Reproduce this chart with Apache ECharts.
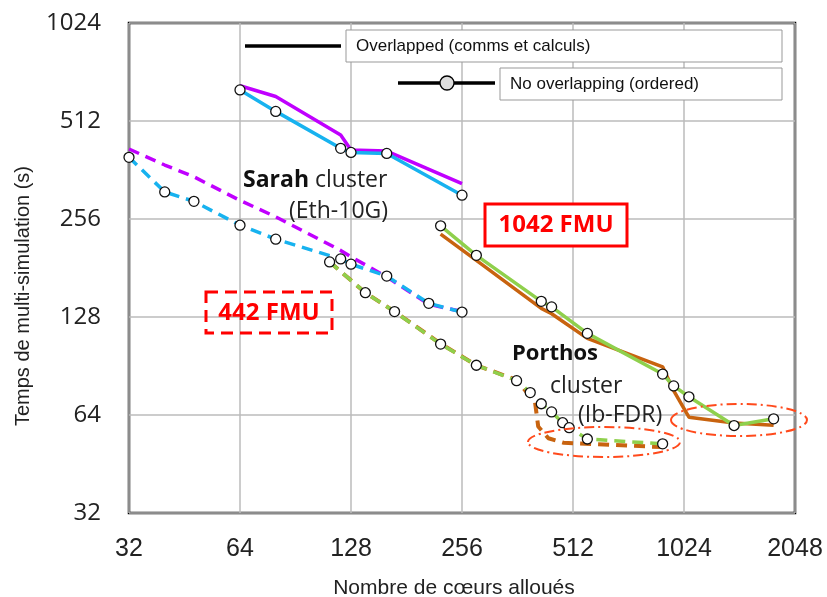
<!DOCTYPE html>
<html>
<head>
<meta charset="utf-8">
<script src="https://cdn.jsdelivr.net/npm/echarts@6/dist/echarts.min.js"></script>
<style>
  html, body { margin: 0; padding: 0; background: #fff; }
  #main { width: 827px; height: 597px; }
</style>
</head>
<body>
<div id="main"></div>
<script>
// ---- data (cores, seconds) ----
var xTicks = [32, 64, 128, 256, 512, 1024, 2048];
var yTicks = [32, 64, 128, 256, 512, 1024];

// Sarah cluster, 1042 FMU (solid)
var sarahBigX       = [64, 80, 120, 128, 160, 256];
var sarahBigOrdered = [638, 548, 422, 410, 407, 303];
var sarahBigOverlap = [657, 609, 464, 417, 414, 329];

// Sarah cluster, 442 FMU (dashed)
var sarahSmallX       = [32, 40, 48, 64, 80, 120, 128, 160, 208, 256];
var sarahSmallOrdered = [396, 310, 290, 245, 222, 193, 186, 171, 141, 132.5];
var sarahSmallOverlap = [420, 375, 345, 292, 260, 205, 196, 170, 140, 133];

// Porthos cluster, 1042 FMU (solid)
var porthosBigX       = [224, 280, 420, 448, 560, 896, 960, 1056, 1400, 1792];
var porthosBigOrdered = [244, 198, 143, 137.5, 114, 85.5, 78.6, 72.8, 59.4, 62.3];
var porthosBigOverlap = [230, 191, 136, 131, 110, 90, 76, 63, 60.5, 59.5];

// Porthos cluster, 442 FMU (dashed)
var porthosSmallX       = [112, 140, 168, 224, 280, 360, 392, 420, 448, 480, 500, 560, 896];
var porthosSmallOrdered = [189, 152, 133, 105.7, 91, 81.6, 75, 69.3, 65.4, 60.6, 58.5, 54, 52.2];
var porthosSmallOverX   = [112, 140, 168, 224, 280, 360, 404, 412, 439, 483, 896];
var porthosSmallOverlap = [189, 152, 133, 106, 91, 82, 70, 59, 54.3, 52.6, 51];

function zip(xs, ys) {
  return xs.map(function (x, i) { return [x, ys[i]]; });
}

var CYAN = '#17b2ef', MAGENTA = '#c000ff', GREEN = '#8fd04c', ORANGE = '#c8630f';

function overlapSeries(xs, ys, color, dashed, w) {
  return {
    type: 'line',
    data: zip(xs, ys),
    showSymbol: false,
    symbol: 'none',
    lineStyle: { color: color, width: w || 3.5, type: dashed ? [11, 7] : 'solid' },
    z: 2
  };
}
function orderedSeries(xs, ys, color, dashed) {
  return {
    type: 'line',
    data: zip(xs, ys),
    symbol: 'circle',
    symbolSize: 10,
    itemStyle: { color: '#fff', borderColor: '#111', borderWidth: 1.3 },
    lineStyle: { color: color, width: 3.5, type: dashed ? [11, 7] : 'solid' },
    z: 3
  };
}

var chart = echarts.init(document.getElementById('main'));
var option = {
  backgroundColor: '#fff',
  animation: false,
  grid: {
    left: 129, right: 32, top: 23, bottom: 84,
    show: true, borderColor: '#000', borderWidth: 2.5
  },
  xAxis: {
    type: 'log', logBase: 2, min: 32, max: 2048,
    axisLine: { show: false },
    axisTick: { show: false },
    splitLine: { show: true, lineStyle: { color: '#bbb', width: 1.5 } },
    axisLabel: {
      margin: 24, fontFamily: 'Liberation Sans', fontSize: 25, color: '#222',
      formatter: function (v) { return xTicks.indexOf(Math.round(v)) >= 0 ? String(Math.round(v)) : ''; }
    }
  },
  yAxis: {
    type: 'log', logBase: 2, min: 32, max: 1024,
    axisLine: { show: false },
    axisTick: { show: false },
    splitLine: { show: true, lineStyle: { color: '#bbb', width: 1.5 } },
    axisLabel: {
      margin: 28, fontFamily: 'Open Sans', fontSize: 24, color: '#222',
      formatter: function (v) { return yTicks.indexOf(Math.round(v)) >= 0 ? String(Math.round(v)) : ''; }
    }
  },
  series: [
    overlapSeries(sarahBigX, sarahBigOverlap, MAGENTA, false),
    orderedSeries(sarahBigX, sarahBigOrdered, CYAN, false),
    overlapSeries(sarahSmallX, sarahSmallOverlap, MAGENTA, true),
    orderedSeries(sarahSmallX, sarahSmallOrdered, CYAN, true),
    orderedSeries(porthosBigX, porthosBigOrdered, GREEN, false),
    overlapSeries(porthosBigX, porthosBigOverlap, ORANGE, false),
    overlapSeries(porthosSmallOverX, porthosSmallOverlap, ORANGE, true, 4),
    orderedSeries(porthosSmallX, porthosSmallOrdered, GREEN, true)
  ],
  graphic: [
    // axis titles
    { type: 'text', x: 454, y: 588, style: { text: 'Nombre de cœurs alloués', align: 'center', verticalAlign: 'middle', fontFamily: 'Liberation Sans', fontSize: 21, fill: '#222' } },
    { type: 'text', x: 23, y: 296, rotation: Math.PI / 2, style: { text: 'Temps de multi-simulation (s)', align: 'center', verticalAlign: 'middle', fontFamily: 'Liberation Sans', fontSize: 20, fill: '#222' } },

    // legend
    { type: 'line', shape: { x1: 245, y1: 46, x2: 341, y2: 46 }, style: { stroke: '#000', lineWidth: 3.5 }, z: 10 },
    { type: 'rect', shape: { x: 346, y: 30, width: 436, height: 32 }, style: { fill: '#fff', stroke: '#999', lineWidth: 1 }, z: 10 },
    { type: 'text', x: 356, y: 46, style: { text: 'Overlapped (comms et calculs)', fontFamily: 'Liberation Sans', fontSize: 17, fill: '#111', verticalAlign: 'middle' }, z: 11 },
    { type: 'line', shape: { x1: 398, y1: 83, x2: 495, y2: 83 }, style: { stroke: '#000', lineWidth: 3.5 }, z: 10 },
    { type: 'circle', shape: { cx: 447, cy: 83, r: 7 }, style: { fill: '#ddd', stroke: '#000', lineWidth: 1.3 }, z: 11 },
    { type: 'rect', shape: { x: 500, y: 68, width: 282, height: 32 }, style: { fill: '#fff', stroke: '#999', lineWidth: 1 }, z: 10 },
    { type: 'text', x: 510, y: 84, style: { text: 'No overlapping (ordered)', fontFamily: 'Liberation Sans', fontSize: 17, fill: '#111', verticalAlign: 'middle' }, z: 11 },

    // cluster labels
    { type: 'text', x: 243, y: 180, style: { text: '{b|Sarah} cluster', verticalAlign: 'middle', fontFamily: 'Open Sans', fontSize: 23, fill: '#222',
      rich: { b: { fontWeight: 'bold', fontFamily: 'Open Sans', fontSize: 23, fill: '#111' } } }, z: 11 },
    { type: 'text', x: 289, y: 211, style: { text: '(Eth-10G)', verticalAlign: 'middle', fontFamily: 'Open Sans', fontSize: 23, fill: '#222' }, z: 11 },
    { type: 'text', x: 512, y: 354, style: { text: 'Porthos', verticalAlign: 'middle', fontFamily: 'Open Sans', fontWeight: 'bold', fontSize: 22, fill: '#111' }, z: 11 },
    { type: 'text', x: 550, y: 386, style: { text: 'cluster', verticalAlign: 'middle', fontFamily: 'Open Sans', fontSize: 23, fill: '#222' }, z: 11 },
    { type: 'text', x: 578, y: 415, style: { text: '(Ib-FDR)', verticalAlign: 'middle', fontFamily: 'Open Sans', fontSize: 23, fill: '#222' }, z: 11 },

    // FMU boxes
    { type: 'rect', shape: { x: 485, y: 204, width: 142, height: 42 }, style: { fill: '#fff', stroke: '#ff0000', lineWidth: 3 }, z: 10 },
    { type: 'text', x: 556, y: 225, style: { text: '1042 FMU', align: 'center', verticalAlign: 'middle', fontFamily: 'Open Sans', fontWeight: 'bold', fontSize: 24, fill: '#ff0000' }, z: 11 },
    { type: 'rect', shape: { x: 206, y: 292, width: 126, height: 41 }, style: { fill: 'none', stroke: '#ff0000', lineWidth: 3, lineDash: [12, 7] }, z: 10 },
    { type: 'text', x: 269, y: 313, style: { text: '442 FMU', align: 'center', verticalAlign: 'middle', fontFamily: 'Open Sans', fontWeight: 'bold', fontSize: 24, fill: '#ff0000' }, z: 11 },

    // dash-dot ellipses
    { type: 'ellipse', shape: { cx: 604, cy: 442, rx: 76, ry: 15 }, style: { fill: 'none', stroke: '#ff4a1c', lineWidth: 2, lineDash: [10, 4, 2, 4] }, z: 10 },
    { type: 'ellipse', shape: { cx: 739, cy: 420, rx: 68, ry: 16 }, style: { fill: 'none', stroke: '#ff4a1c', lineWidth: 2, lineDash: [10, 4, 2, 4] }, z: 10 }
  ]
};
chart.setOption(option);
window.addEventListener('resize', function () { chart.resize(); });
</script>
</body>
</html>
